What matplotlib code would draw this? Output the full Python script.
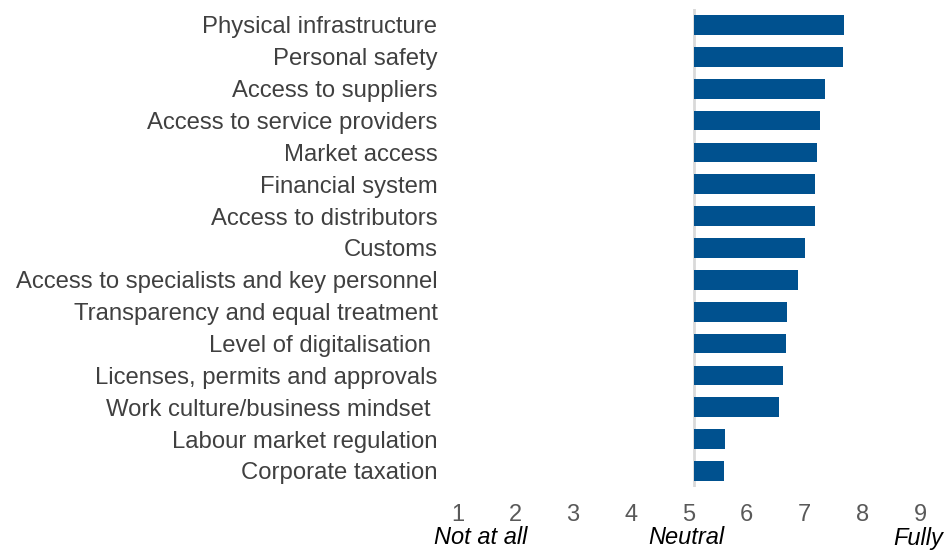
import matplotlib
matplotlib.use("Agg")
import matplotlib.pyplot as plt
from matplotlib.transforms import ScaledTranslation, blended_transform_factory

categories = [
    "Physical infrastructure",
    "Personal safety",
    "Access to suppliers",
    "Access to service providers",
    "Market access",
    "Financial system",
    "Access to distributors",
    "Customs",
    "Access to specialists and key personnel",
    "Transparency and equal treatment",
    "Level of digitalisation ",
    "Licenses, permits and approvals",
    "Work culture/business mindset ",
    "Labour market regulation",
    "Corporate taxation",
]
values = [7.60, 7.58, 7.27, 7.18, 7.14, 7.09, 7.09, 6.93, 6.80, 6.62, 6.59, 6.54, 6.47, 5.54, 5.52]
xticks = [1, 2, 3, 4, 5, 6, 7, 8, 9]
baseline = 5

plt.rcParams['font.family'] = ['Liberation Sans', 'DejaVu Sans']

fig = plt.figure(figsize=(9.52, 5.51), dpi=100)
W, H = 952, 551
left_px, right_px = 462.5, 925.0
top_px, bot_px = 9.07, 486.9
ax = fig.add_axes([left_px / W, 1 - bot_px / H, (right_px - left_px) / W, (bot_px - top_px) / H])

y = list(range(len(categories)))
widths = [v - baseline for v in values]
ax.barh(y, widths, left=baseline, height=0.62, color="#00518F", zorder=2)
ax.axvline(baseline, color="#d9d9d9", lw=2, zorder=1)

ax.set_xlim(1, 9)
ax.set_ylim(len(categories) - 0.5, -0.5)
ax.set_yticks(y)
ax.set_yticklabels(categories, fontsize=17.2, color="#404040")
ax.set_xticks(xticks)
ax.set_xticklabels([str(t) for t in xticks], fontsize=17, color="#595959")
ax.tick_params(axis='y', length=0, pad=18)
ax.tick_params(axis='x', length=0, pad=12)
for s in ax.spines.values():
    s.set_visible(False)

off = ScaledTranslation(-5 / 100, 0, fig.dpi_scale_trans)
for lab in ax.get_xticklabels():
    lab.set_transform(lab.get_transform() + off)

tr = blended_transform_factory(ax.transData, fig.transFigure)
ypos = 1 - 538 / H
ax.text(1.32, ypos, "Not at all", transform=tr, ha="center", va="center",
        fontsize=17, style="italic", color="#000000", clip_on=False)
ax.text(4.88, ypos, "Neutral", transform=tr, ha="center", va="center",
        fontsize=17, style="italic", color="#000000", clip_on=False)
ax.text(8.45, ypos, "Fully", transform=tr, ha="left", va="center",
        fontsize=17, style="italic", color="#000000", clip_on=False)

fig.savefig("out.png", dpi=100)
